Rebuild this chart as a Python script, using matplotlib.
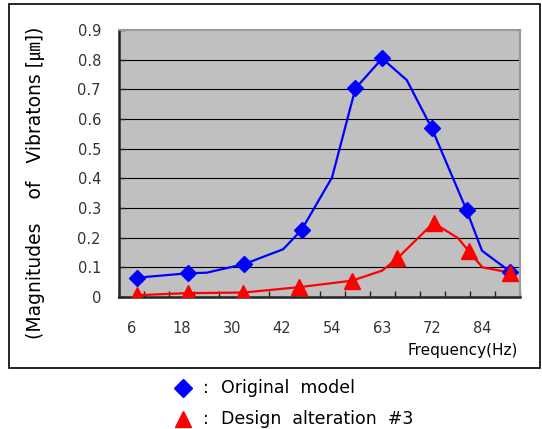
import matplotlib
matplotlib.use("Agg")
import matplotlib.pyplot as plt
from matplotlib.lines import Line2D
from matplotlib.patches import Rectangle

# positions on the frequency axis (0-96, one tick every 6)
orig_x = [4.2, 16.6, 21.0, 30.0, 39.3, 43.7, 51.0, 56.6, 63.0, 68.9, 74.9, 83.2, 86.9, 93.7]
orig_y = [0.065, 0.080, 0.082, 0.111, 0.161, 0.226, 0.403, 0.703, 0.804, 0.731, 0.568, 0.293, 0.156, 0.085]
orig_marked = [0, 1, 3, 5, 7, 8, 10, 11, 13]

alt_x = [4.2, 16.4, 29.8, 43.0, 55.8, 63.0, 66.6, 75.3, 81.2, 83.7, 87.0, 93.7]
alt_y = [0.006, 0.013, 0.015, 0.033, 0.055, 0.089, 0.130, 0.250, 0.198, 0.155, 0.100, 0.082]
alt_marked = [0, 1, 2, 3, 4, 6, 7, 9, 11]

tick_pos = [3, 15, 27, 39, 51, 63, 75, 87]
tick_labels = ["6", "18", "30", "42", "54", "63", "72", "84"]
yticks = [0, 0.1, 0.2, 0.3, 0.4, 0.5, 0.6, 0.7, 0.8, 0.9]
ytick_labels = ["0", "0.1", "0.2", "0.3", "0.4", "0.5", "0.6", "0.7", "0.8", "0.9"]

W, H = 542, 429
fig = plt.figure(figsize=(W / 100, H / 100), dpi=100)
fig.patch.set_facecolor("white")

# outer frame
fig.patches.append(Rectangle((9 / W, 1 - 368 / H), 531 / W, 364 / H, transform=fig.transFigure,
                             fill=False, edgecolor="black", linewidth=1.2))

ax = fig.add_axes([119 / W, 1 - 297 / H, 401 / W, 267 / H])
ax.set_facecolor("#C0C0C0")

for v in yticks[1:-1]:
    ax.axhline(v, color="black", linewidth=0.8, zorder=1)

ax.plot(orig_x, orig_y, color="#0000FF", linewidth=1.6, zorder=3)
ax.plot([orig_x[i] for i in orig_marked], [orig_y[i] for i in orig_marked], linestyle="none",
        marker="D", markersize=8, color="#0000FF", zorder=4)
ax.plot(alt_x, alt_y, color="#FF0000", linewidth=1.6, zorder=3)
ax.plot([alt_x[i] for i in alt_marked], [alt_y[i] for i in alt_marked], linestyle="none",
        marker="^", markersize=11, color="#FF0000", zorder=4)

ax.set_xlim(0, 96)
ax.set_ylim(0, 0.9)
ax.set_xticks(range(0, 97, 6), minor=True)
ax.set_xticks(tick_pos)
ax.set_xticklabels(tick_labels, fontsize=10.5, color="#333333")
ax.tick_params(axis="x", which="major", length=0, pad=17)
ax.tick_params(axis="x", which="minor", direction="in", length=4, width=1, color="#222222")
ax.set_yticks(yticks)
ax.set_yticklabels(ytick_labels, fontsize=10.5, color="#333333")
ax.tick_params(axis="y", direction="in", length=4, width=1, color="#222222", pad=13)

for side in ["left", "bottom"]:
    ax.spines[side].set_color("#222222")
    ax.spines[side].set_linewidth(1.8)
for side in ["top", "right"]:
    ax.spines[side].set_color("#999999")
    ax.spines[side].set_linewidth(1.5)

fig.text(518 / W, 1 - 350 / H, "Frequency(Hz)", ha="right", va="center", fontsize=11, color="black")
fig.text(36 / W, 1 - 183 / H, "(Magnitudes    of   Vibratons [\u339b])", rotation=90,
         ha="center", va="center", fontsize=13.5, color="black",
         family=["DejaVu Sans", "Noto Sans CJK KR"])

# legend under the frame
fig.add_artist(Line2D([183 / W], [1 - 388 / H], marker="D", markersize=9, color="#0000FF",
                      linestyle="none", transform=fig.transFigure))
fig.add_artist(Line2D([183 / W], [1 - 419 / H], marker="^", markersize=12, color="#FF0000",
                      linestyle="none", transform=fig.transFigure))
fig.text(203 / W, 1 - 388 / H, ":", ha="left", va="center", fontsize=12.5)
fig.text(203 / W, 1 - 419 / H, ":", ha="left", va="center", fontsize=12.5)
fig.text(221 / W, 1 - 388 / H, "Original  model", ha="left", va="center", fontsize=12.5)
fig.text(221 / W, 1 - 419 / H, "Design  alteration  #3", ha="left", va="center", fontsize=12.5)

fig.savefig("out.png", dpi=100)
